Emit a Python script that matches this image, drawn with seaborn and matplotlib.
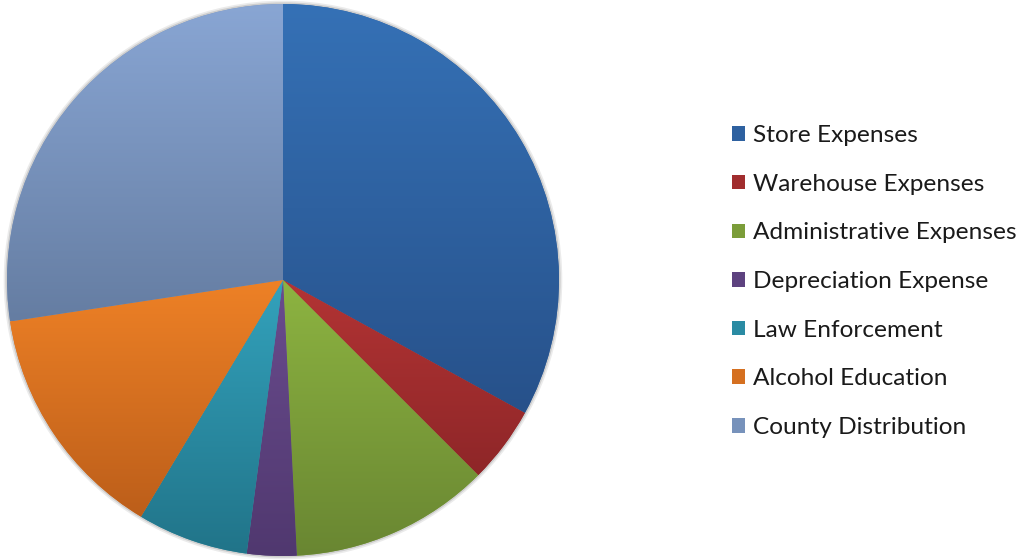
import numpy as np
import matplotlib
matplotlib.use("Agg")
import matplotlib.pyplot as plt
import matplotlib.colors as mcolors
import seaborn as sns

categories = ["Store Expenses", "Warehouse Expenses", "Administrative Expenses",
              "Depreciation Expense", "Law Enforcement", "Alcohol Education",
              "County Distribution"]
shares = [33.0, 4.5, 11.7, 2.9, 6.5, 14.0, 27.4]

top_colors = ["#3571B6", "#B33434", "#8DB441", "#6A4C8E", "#33A2BC", "#EE8126", "#89A6D4"]
bottom_colors = ["#27518A", "#8E2628", "#698632", "#50386F", "#217489", "#BC5E1A", "#657DA2"]

sns.set_theme(style="white")
plt.rcParams['font.family'] = ['Lato', 'DejaVu Sans']

W, H = 1018, 560
fig = plt.figure(figsize=(W / 100, H / 100), dpi=100)
cx, cy, r = 283, 280, 276
pad = 1.02
ax = fig.add_axes([(cx - r * pad) / W, (H - cy - r * pad) / H, 2 * r * pad / W, 2 * r * pad / H])
ax.set_aspect("equal")
ax.axis("off")

mid_colors = []
for t, b in zip(top_colors, bottom_colors):
    ct = np.array(mcolors.to_rgb(t)); cb = np.array(mcolors.to_rgb(b))
    mid_colors.append(tuple((ct + cb) / 2))

# soft shadow
for k, a in zip([1.012, 1.006], [0.08, 0.12]):
    ax.add_patch(plt.Circle((0, 0), k, color="black", alpha=a, lw=0, zorder=0))

wedges, _ = ax.pie(shares, colors=mid_colors, startangle=90, counterclock=False,
                   radius=1.0, wedgeprops=dict(linewidth=0))

for w, t, b in zip(wedges, top_colors, bottom_colors):
    ext = w.get_path().get_extents()
    ct = np.array(mcolors.to_rgb(t)); cb = np.array(mcolors.to_rgb(b))
    n = 256
    f = np.linspace(0, 1, n)[:, None]
    grad = ct[None, :] * (1 - f) + cb[None, :] * f
    img = np.repeat(grad[:, None, :], 2, axis=1)
    im = ax.imshow(img, extent=[ext.x0, ext.x1, ext.y0, ext.y1], origin="upper",
                   aspect="auto", zorder=2, interpolation="bilinear")
    im.set_clip_path(w)
ax.set_xlim(-pad, pad)
ax.set_ylim(-pad, pad)

leg = fig.legend(wedges, categories, loc="upper left",
                 bbox_to_anchor=(720 / W, 1 - 113 / H), frameon=False,
                 fontsize=17.6, handlelength=0.54, handleheight=0.54,
                 handletextpad=0.3, labelspacing=1.13, borderpad=0,
                 labelcolor="#1a1a1a")

fig.savefig("out.png", dpi=100, facecolor="white")
